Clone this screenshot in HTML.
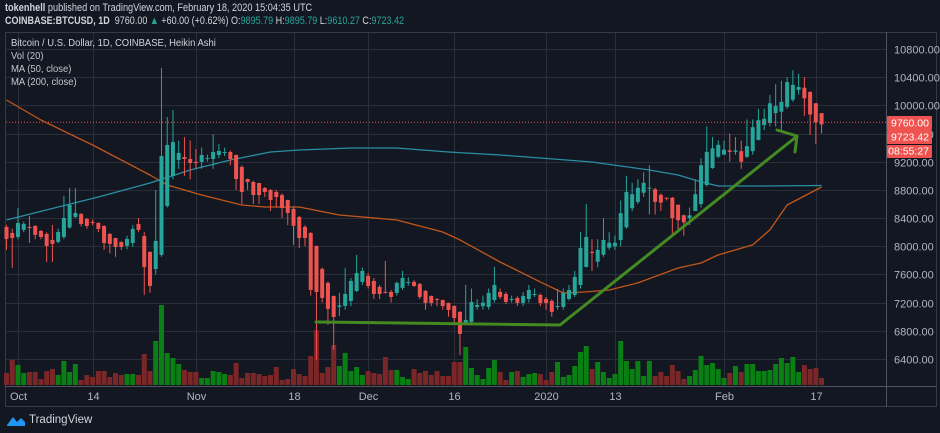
<!DOCTYPE html>
<html><head><meta charset="utf-8">
<style>
html,body{margin:0;padding:0;background:#131722;width:940px;height:433px;overflow:hidden;font-family:"Liberation Sans",sans-serif;}
#hdr1{position:absolute;left:5px;top:2px;font-size:11px;color:#d1d4dc;white-space:nowrap;transform:scaleX(0.835);transform-origin:0 0;}
#hdr2{position:absolute;left:5px;top:15px;font-size:11px;color:#d1d4dc;white-space:nowrap;transform:scaleX(0.82);transform-origin:0 0;}
.t{color:#26a69a}
.lg{position:absolute;left:11px;font-size:10.5px;color:#c4c6cc;white-space:nowrap;transform:scaleX(0.9);transform-origin:0 0;}
svg{position:absolute;left:0;top:0;}
</style></head><body>
<div id="hdr1"><b>tokenhell</b> published on TradingView.com, February 18, 2020 15:04:35 UTC</div>
<div id="hdr2"><b>COINBASE:BTCUSD, 1D</b>&nbsp; 9760.00 <span class="t">▲</span> +60.00 (+0.62%) O:<span class="t">9895.79</span> H:<span class="t">9895.79</span> L:<span class="t">9610.27</span> C:<span class="t">9723.42</span></div>
<svg id="chart" width="940" height="433"></svg>
<div class="lg" style="top:37px;color:#d1d4dc">Bitcoin / U.S. Dollar, 1D, COINBASE, Heikin Ashi</div>
<div class="lg" style="top:50px">Vol (20)</div>
<div class="lg" style="top:63px">MA (50, close)</div>
<div class="lg" style="top:76px">MA (200, close)</div>
<div style="position:absolute;left:6px;top:412px;height:16px;display:flex;align-items:center;">
<svg width="20" height="14" style="position:static"><path d="M1 12 L7 4 L11 9 L15 5 L19 9 L19 13 L1 13Z" fill="#2196f3"/></svg>
<span style="color:#d1d4dc;font-size:11.5px;margin-left:3px">TradingView</span></div>
<script>
const opens=[8274,8189,8132,8232,8274,8288,8217,8175,8090,8061,8132,8267,8416,8459,8388,8345,8331,8288,8175,8118,8061,8005,8047,8317,8146,7919,7678,7877,8572,8998,9225,9267,9239,9197,9197,9253,9239,9296,9338,9338,9296,9126,8955,8913,8898,8828,8800,8771,8728,8657,
8530,8416,8274,8189,8005,7678,7480,7295,7140,7153,7224,7366,7494,7579,7508,7423,7352,7352,7338,7409,7494,7494,7465,7366,7295,7252,7238,7196,7153,7068,6912,6926,7139,7150,7139,7238,7352,7323,7252,7267,7196,7252,7323,7309,7252,7224,7139,7139,7253,7309,7451,7707,7920,
7780,7880,7980,8000,8090,8270,8540,8630,8760,8830,8810,8730,8690,8690,8590,8440,8400,8500,8600,8870,9110,9270,9300,9360,9340,9350,9270,9350,9510,9720,9750,9890,9910,9980,10080,10220,10250,10190,10030,9890];
const closes=[8104,8118,8331,8317,8270,8161,8132,8005,8033,8203,8402,8586,8473,8317,8288,8340,8246,8047,8033,7990,7990,8104,8246,8232,7707,7437,8076,9282,9438,9480,9324,9239,9182,9182,9296,9253,9338,9353,9338,9239,8955,8771,8913,8728,8728,8771,8657,8700,8544,8473,
8290,8118,8118,7380,7352,7267,7111,6997,7160,7323,7508,7621,7650,7437,7323,7323,7340,7281,7480,7550,7494,7437,7281,7196,7196,7238,7153,7096,6983,6756,6955,7210,7167,7200,7338,7451,7281,7210,7252,7196,7295,7380,7323,7196,7196,7068,7153,7338,7380,7565,7976,8132,7905,
7950,8090,8050,8050,8470,8770,8740,8830,8900,8830,8630,8620,8680,8400,8370,8340,8440,8740,9150,9340,9390,9440,9370,9340,9360,9200,9420,9690,9790,9810,10030,9990,10050,10330,10290,10260,10100,9870,9760,9730];
const highs=[8300,8250,8544,8350,8430,8300,8230,8200,8303,8250,8714,8828,8828,8470,8400,8380,8340,8300,8190,8120,8070,8150,8300,8400,8200,7930,8799,10530,9835,9934,9500,9550,9500,9380,9400,9300,9594,9450,9400,9360,9300,9150,8960,8930,8900,8840,8810,8800,8750,8660,
8560,8430,8300,8200,8010,7700,7500,7300,7340,7693,7550,7877,7700,7620,7550,7450,7792,7380,7500,7650,7560,7520,7480,7380,7300,7260,7240,7200,7160,7080,7451,7400,7250,7300,7400,7707,7400,7350,7300,7290,7350,7450,7400,7330,7280,7250,7394,7400,7450,7650,8200,8600,8100,
8100,8400,8200,8150,8650,9000,8900,8950,9050,9150,8830,8750,8690,8700,8590,8450,8550,8950,9250,9700,9550,9500,9500,9600,9550,9500,9800,9800,9950,9950,10150,10300,10350,10400,10500,10450,10400,10200,10030,9890];
const lows=[7950,7693,8100,8200,8047,8100,8100,7777,7777,8040,8100,8250,8400,8280,8250,8300,8200,7950,7900,7850,7950,7960,7990,8200,7309,7338,7600,7850,8550,8950,9100,9000,8950,9100,9100,9200,9100,9250,9280,9150,8800,8600,8800,8600,8600,8700,8500,8550,8400,8300,
8020,7976,8000,7300,6387,7200,6884,6529,7011,7100,7150,7350,7450,7400,7250,7250,7330,7200,7300,7380,7440,7420,7250,7100,7150,7150,7100,7000,6900,6458,6900,6880,7100,7100,7100,7200,7250,7180,7200,7150,7150,7200,7280,7150,7100,7000,7100,7100,7230,7280,7400,7700,7650,
7700,7850,7950,7950,8000,8250,8500,8600,8700,8450,8450,8500,8650,8150,8200,8150,8300,8500,8550,8850,9100,9250,9300,9200,9300,9100,9250,9300,9500,9650,9700,9700,9650,9950,10050,10150,9850,9580,9450,9600];
const volumes=[12,25,20,12,13,13,6,14,16,10,24,13,21,5,10,8,14,14,8,12,10,11,11,10,31,14,44,80,32,27,21,15,13,13,7,7,14,13,11,10,22,7,12,12,11,9,10,18,5,6,16,11,9,29,55,12,18,40,19,32,14,18,10,14,12,11,28,15,15,8,6,16,12,14,10,14,9,9,23,23,
38,17,10,6,17,25,13,5,13,14,8,11,12,11,5,13,23,8,10,19,33,39,16,23,13,7,11,44,24,16,24,9,24,9,13,9,20,14,6,9,15,29,20,22,16,7,12,19,13,21,21,14,14,15,21,27,22,28,13,20,16,17,7];
const ma50Days=[0,6,15,25,28,34,41,45,51,58,68,76,79,86,93,97,101,105,110,117,121,124,130,133,136,142];
const ma50Vals=[10076,9792,9438,9012,8870,8728,8586,8558,8558,8444,8373,8203,8090,7777,7494,7337,7352,7380,7480,7692,7763,7877,8019,8232,8586,8842];
const ma200Days=[0,9,16,25,32,39,46,51,60,68,77,86,93,102,107,112,117,121,124,131,142];
const ma200Vals=[8373,8558,8700,8898,9083,9225,9338,9367,9395,9395,9338,9296,9253,9196,9140,9083,9012,8913,8856,8856,8862];
const priceTicks=[10800,10400,10000,9600,9200,8800,8400,8000,7600,7200,6800,6400];
const timeLabels=["Oct","14","Nov","18","Dec","16","2020","13","Feb","17"];
const timeIdx=[2,15,33,50,63,78,94,106,125,141];
const lastPrice=9760, closePrice=9723.42;

const NS="http://www.w3.org/2000/svg";
const svg=document.getElementById('chart');
const X=i=>6.5+i*5.74;
const Y=p=>49+(10800-p)*0.070455;
const VY=v=>385-v*1.0;
function mk(tag,attrs,parent){const e=document.createElementNS(NS,tag);for(const k in attrs)e.setAttribute(k,attrs[k]);(parent||svg).appendChild(e);return e;}

let e=mk('rect',{x:5.5,y:32.5,width:931,height:374,fill:'none',stroke:'#363a45'});


e=mk('line',{x1:5,x2:937,y1:386.5,y2:386.5,stroke:'#50535e'});


e=mk('line',{x1:886.5,x2:886.5,y1:32,y2:407,stroke:'#50535e'});



priceTicks.forEach(p=>{
  const y=Math.round(Y(p))+0.5;
  let g=mk('line',{x1:6,x2:886,y1:y,y2:y,stroke:'#2a2e39'});
  
  
  let t=mk('text',{x:894,y:y+4,fill:'#b2b5be','font-size':'11','font-family':'Liberation Sans, sans-serif'});
  t.textContent=p.toFixed(2);
  
  
});
timeIdx.forEach((d,k)=>{
  const x=Math.round(X(d))+0.5;
  let g=mk('line',{x1:x,x2:x,y1:33,y2:386,stroke:'#2a2e39'});
  
  
  let t=mk('text',{x:x,y:400,fill:'#b2b5be','font-size':'11','text-anchor':'middle','font-family':'Liberation Sans, sans-serif'});
  t.textContent=timeLabels[k];
  
  
});

volumes.forEach((v,i)=>{
  const up=closes[i]>=opens[i];
  let r=mk('rect',{x:X(i)-2.5,y:VY(v),width:5,height:385-VY(v),fill:up?'#0a7f14':'#7b2627'});
  
  
});

function maPath(days,vals,color,name){
  const d=days.map((dd,k)=>(k?'L':'M')+X(dd).toFixed(1)+' '+Y(vals[k]).toFixed(1)).join(' ');
  let p=mk('path',{d:d,fill:'none',stroke:color,'stroke-width':1.3,'stroke-linejoin':'round'});
  
  
}
maPath(ma50Days,ma50Vals,'#c2571a','ma50-line');
maPath(ma200Days,ma200Vals,'#2a8ea3','ma200-line');

opens.forEach((o,i)=>{
  const c=closes[i],up=c>=o,col=up?'#26a69a':'#ef5350';
  const x=X(i);
  let w=mk('line',{x1:x,x2:x,y1:Y(highs[i]),y2:Y(lows[i]),stroke:col,'stroke-width':1});
  
  
  const top=Y(Math.max(o,c)),bot=Y(Math.min(o,c));
  let b=mk('rect',{x:x-2,y:top,width:4,height:Math.max(1,bot-top),fill:col});
  
  
});

let ly=Y(lastPrice);
e=mk('line',{x1:6,x2:886,y1:ly,y2:ly,stroke:'#ef5350','stroke-dasharray':'1 2','stroke-width':1});



e=mk('path',{d:'M316 322 L560 325 L796 137 M777 130 L797 136 L795 152',fill:'none',stroke:'#438a22','stroke-width':3,'stroke-linejoin':'round','stroke-linecap':'round'});



function badge(y,h,txt,name){
  let r=mk('rect',{x:887,y:y,width:45,height:h,fill:'#ef5350',rx:1});
  
  
  let t=mk('text',{x:929,y:y+h-3.5,fill:'#fff','font-size':'10.5','text-anchor':'end','font-family':'Liberation Sans, sans-serif'});
  t.textContent=txt;
  
  
}
badge(116,14,lastPrice.toFixed(2),'last-price-label');
badge(130,14,closePrice.toFixed(2),'close-price-label');
let sep=mk('line',{x1:887,x2:932,y1:144.5,y2:144.5,stroke:'#131722'});


badge(145,13,'08:55:27','countdown-label');
</script>
</body></html>
